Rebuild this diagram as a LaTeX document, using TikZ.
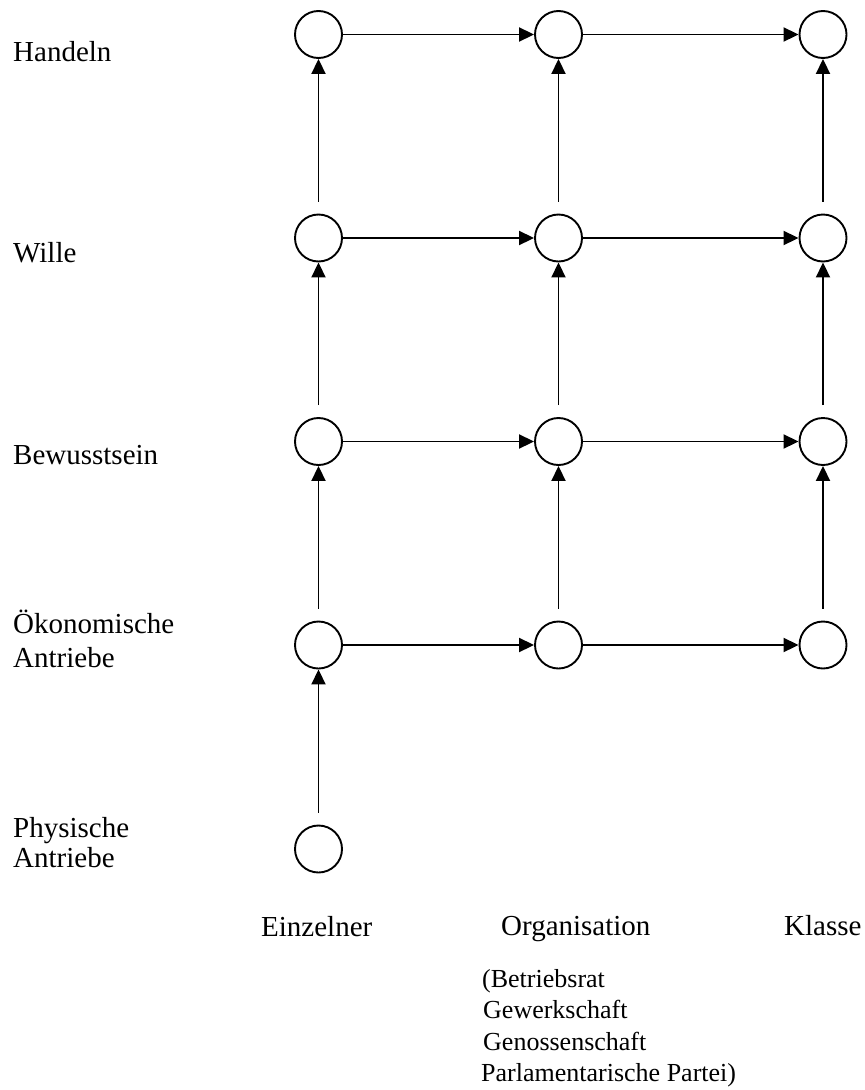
\documentclass[tikz,border=0pt]{standalone}
\usepackage{fontspec}
\setmainfont{Liberation Serif}
\usetikzlibrary{arrows.meta}
\begin{document}
\begin{tikzpicture}[x=1pt,y=-1pt,
  state/.style={circle,draw,line width=1.9pt,minimum size=47pt,inner sep=0pt},
  arr/.style={line width=1.9pt,-{Triangle[length=15pt,width=14pt]}},
  lbl/.style={inner sep=0pt,anchor=base west,font=\fontsize{29}{34}\selectfont},
  sublbl/.style={inner sep=0pt,anchor=base west,font=\fontsize{26}{31}\selectfont}]
\useasboundingbox (0,0) rectangle (865,1090);
% circles
\foreach \c/\x in {1/318.5,2/558.5,3/823} {
  \foreach \r/\y in {1/34.5,2/238,3/441.5,4/645} {
    \node[state] (n\r\c) at (\x,\y) {};
  }
}
\node[state] (n51) at (318.5,849) {};
% horizontal arrows
\foreach \r in {1,2,3,4} {
  \draw[arr] (n\r1.east) -- (n\r2.west);
  \draw[arr] (n\r2.east) -- (n\r3.west);
}
% vertical arrows
\draw[arr] ([yshift=12pt]n51.north) -- (n41.south);
\foreach \c in {1,2,3} {
  \draw[arr] ([yshift=12pt]n4\c.north) -- (n3\c.south);
  \draw[arr] ([yshift=12pt]n3\c.north) -- (n2\c.south);
  \draw[arr] ([yshift=12pt]n2\c.north) -- (n1\c.south);
}
% row labels
\node[lbl] (handeln) at (13,61) {Handeln};
\node[lbl] (wille) at (13,262) {Wille};
\node[lbl] (bewusst) at (13,464) {Bewusstsein};
\node[lbl] (oekon) at (13,633) {Ökonomische};
\node[lbl] (oekonb) at (13,667) {Antriebe};
\node[lbl] (phys) at (13,837) {Physische};
\node[lbl] (physb) at (13,867) {Antriebe};
% column labels
\node[lbl] (einz) at (261,936) {Einzelner};
\node[lbl] (orga) at (501,935) {Organisation};
\node[lbl] (klasse) at (784,935) {Klasse};
\node[sublbl] (org1) at (482,987) {(Betriebsrat};
\node[sublbl] (org2) at (483,1018) {Gewerkschaft};
\node[sublbl] (org3) at (483,1050) {Genossenschaft};
\node[sublbl] (org4) at (481,1081) {Parlamentarische Partei)};
\end{tikzpicture}
\end{document}
